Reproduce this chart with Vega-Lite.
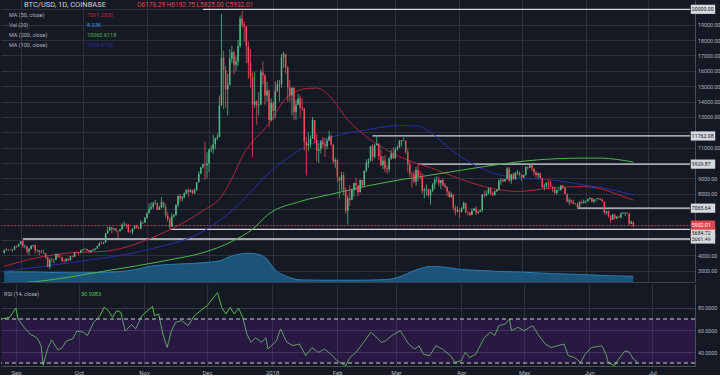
{
"$schema":"https://vega.github.io/schema/vega-lite/v6.json",
"background":"#151924",
"padding":0,
"spacing":1,
"config":{"view":{"stroke":null},"axis":{"labelFont":"Roboto","ticks":false,"labelOverlap":false},"text":{"font":"Roboto"}},
"datasets":{
"k":[
{"t":"2017-08-24","o":4150,"h":4370,"l":4120,"c":4330},{"t":"2017-08-25","o":4330,"h":4460,"l":4300,"c":4370},{"t":"2017-08-26","o":4370,"h":4380,"l":4280,"c":4350},{"t":"2017-08-27","o":4350,"h":4400,"l":4310,"c":4345},{"t":"2017-08-28","o":4345,"h":4400,"l":4230,"c":4390},{"t":"2017-08-29","o":4390,"h":4630,"l":4340,"c":4590},{"t":"2017-08-30","o":4590,"h":4640,"l":4480,"c":4570},{"t":"2017-08-31","o":4570,"h":4760,"l":4560,"c":4740},
{"t":"2017-09-01","o":4740,"h":4930,"l":4720,"c":4910},{"t":"2017-09-02","o":4910,"h":5000,"l":4470,"c":4590},{"t":"2017-09-03","o":4590,"h":4720,"l":4460,"c":4600},{"t":"2017-09-04","o":4600,"h":4600,"l":4100,"c":4240},{"t":"2017-09-05","o":4240,"h":4480,"l":4000,"c":4400},{"t":"2017-09-06","o":4400,"h":4650,"l":4400,"c":4620},{"t":"2017-09-07","o":4620,"h":4680,"l":4520,"c":4650},{"t":"2017-09-08","o":4650,"h":4700,"l":4120,"c":4320},{"t":"2017-09-09","o":4320,"h":4390,"l":4210,"c":4330},{"t":"2017-09-10","o":4330,"h":4330,"l":4000,"c":4230},{"t":"2017-09-11","o":4230,"h":4360,"l":4160,"c":4170},{"t":"2017-09-12","o":4170,"h":4380,"l":4080,"c":4150},{"t":"2017-09-13","o":4150,"h":4150,"l":3760,"c":3870},{"t":"2017-09-14","o":3870,"h":3920,"l":3220,"c":3250},{"t":"2017-09-15","o":3250,"h":3800,"l":3100,"c":3700},{"t":"2017-09-16","o":3700,"h":3850,"l":3550,"c":3690},{"t":"2017-09-17","o":3690,"h":3760,"l":3480,"c":3700},{"t":"2017-09-18","o":3700,"h":4110,"l":3700,"c":4090},{"t":"2017-09-19","o":4090,"h":4100,"l":3850,"c":3910},{"t":"2017-09-20","o":3910,"h":4050,"l":3850,"c":3880},{"t":"2017-09-21","o":3880,"h":3900,"l":3570,"c":3620},{"t":"2017-09-22","o":3620,"h":3760,"l":3520,"c":3610},{"t":"2017-09-23","o":3610,"h":3800,"l":3580,"c":3790},{"t":"2017-09-24","o":3790,"h":3790,"l":3640,"c":3670},{"t":"2017-09-25","o":3670,"h":3970,"l":3670,"c":3930},{"t":"2017-09-26","o":3930,"h":3980,"l":3860,"c":3890},{"t":"2017-09-27","o":3890,"h":4220,"l":3890,"c":4210},{"t":"2017-09-28","o":4210,"h":4260,"l":4140,"c":4200},{"t":"2017-09-29","o":4200,"h":4230,"l":4020,"c":4170},{"t":"2017-09-30","o":4170,"h":4360,"l":4160,"c":4340},
{"t":"2017-10-01","o":4340,"h":4410,"l":4280,"c":4400},{"t":"2017-10-02","o":4400,"h":4470,"l":4370,"c":4410},{"t":"2017-10-03","o":4410,"h":4430,"l":4250,"c":4310},{"t":"2017-10-04","o":4310,"h":4350,"l":4180,"c":4220},{"t":"2017-10-05","o":4220,"h":4360,"l":4160,"c":4320},{"t":"2017-10-06","o":4320,"h":4420,"l":4310,"c":4370},{"t":"2017-10-07","o":4370,"h":4460,"l":4320,"c":4440},{"t":"2017-10-08","o":4440,"h":4620,"l":4430,"c":4610},{"t":"2017-10-09","o":4610,"h":4880,"l":4560,"c":4770},{"t":"2017-10-10","o":4770,"h":4920,"l":4740,"c":4760},{"t":"2017-10-11","o":4760,"h":4870,"l":4730,"c":4830},{"t":"2017-10-12","o":4830,"h":5450,"l":4830,"c":5440},{"t":"2017-10-13","o":5440,"h":5860,"l":5400,"c":5640},{"t":"2017-10-14","o":5640,"h":5840,"l":5570,"c":5830},{"t":"2017-10-15","o":5830,"h":5850,"l":5450,"c":5690},{"t":"2017-10-16","o":5690,"h":5790,"l":5610,"c":5750},{"t":"2017-10-17","o":5750,"h":5760,"l":5530,"c":5600},{"t":"2017-10-18","o":5600,"h":5600,"l":5120,"c":5580},{"t":"2017-10-19","o":5580,"h":5730,"l":5540,"c":5700},{"t":"2017-10-20","o":5700,"h":6080,"l":5650,"c":6000},{"t":"2017-10-21","o":6000,"h":6190,"l":5880,"c":6010},{"t":"2017-10-22","o":6010,"h":6080,"l":5760,"c":5980},{"t":"2017-10-23","o":5980,"h":6050,"l":5450,"c":5530},{"t":"2017-10-24","o":5530,"h":5630,"l":5480,"c":5500},{"t":"2017-10-25","o":5500,"h":5760,"l":5350,"c":5740},{"t":"2017-10-26","o":5740,"h":5970,"l":5690,"c":5890},{"t":"2017-10-27","o":5890,"h":6000,"l":5730,"c":5780},{"t":"2017-10-28","o":5780,"h":5880,"l":5680,"c":5750},{"t":"2017-10-29","o":5750,"h":6300,"l":5700,"c":6150},{"t":"2017-10-30","o":6150,"h":6200,"l":6030,"c":6130},{"t":"2017-10-31","o":6130,"h":6470,"l":6100,"c":6450},
{"t":"2017-11-01","o":6450,"h":6780,"l":6380,"c":6740},{"t":"2017-11-02","o":6740,"h":7370,"l":6740,"c":7030},{"t":"2017-11-03","o":7030,"h":7450,"l":6950,"c":7160},{"t":"2017-11-04","o":7160,"h":7480,"l":7030,"c":7380},{"t":"2017-11-05","o":7380,"h":7600,"l":7300,"c":7390},{"t":"2017-11-06","o":7390,"h":7430,"l":6940,"c":6960},{"t":"2017-11-07","o":6960,"h":7220,"l":6950,"c":7120},{"t":"2017-11-08","o":7120,"h":7790,"l":7060,"c":7460},{"t":"2017-11-09","o":7460,"h":7460,"l":7070,"c":7140},{"t":"2017-11-10","o":7140,"h":7320,"l":6450,"c":6590},{"t":"2017-11-11","o":6590,"h":6800,"l":6190,"c":6340},{"t":"2017-11-12","o":6340,"h":6460,"l":5690,"c":5860},{"t":"2017-11-13","o":5860,"h":6730,"l":5860,"c":6520},{"t":"2017-11-14","o":6520,"h":6700,"l":6440,"c":6600},{"t":"2017-11-15","o":6600,"h":7330,"l":6600,"c":7280},{"t":"2017-11-16","o":7280,"h":7900,"l":7130,"c":7850},{"t":"2017-11-17","o":7850,"h":8000,"l":7500,"c":7700},{"t":"2017-11-18","o":7700,"h":7850,"l":7500,"c":7780},{"t":"2017-11-19","o":7780,"h":8100,"l":7700,"c":8040},{"t":"2017-11-20","o":8040,"h":8300,"l":7960,"c":8240},{"t":"2017-11-21","o":8240,"h":8370,"l":7800,"c":8100},{"t":"2017-11-22","o":8100,"h":8300,"l":8100,"c":8250},{"t":"2017-11-23","o":8250,"h":8270,"l":8000,"c":8030},{"t":"2017-11-24","o":8030,"h":8350,"l":8000,"c":8230},{"t":"2017-11-25","o":8230,"h":8780,"l":8200,"c":8750},{"t":"2017-11-26","o":8750,"h":9480,"l":8740,"c":9300},{"t":"2017-11-27","o":9300,"h":9730,"l":9300,"c":9720},{"t":"2017-11-28","o":9720,"h":9960,"l":9650,"c":9900},{"t":"2017-11-29","o":9900,"h":11400,"l":8900,"c":9850},{"t":"2017-11-30","o":9850,"h":10700,"l":9000,"c":9950},
{"t":"2017-12-01","o":9950,"h":10950,"l":9400,"c":10860},{"t":"2017-12-02","o":10860,"h":11150,"l":10700,"c":10910},{"t":"2017-12-03","o":10910,"h":11850,"l":10600,"c":11230},{"t":"2017-12-04","o":11230,"h":11650,"l":10900,"c":11620},{"t":"2017-12-05","o":11620,"h":11900,"l":11500,"c":11690},{"t":"2017-12-06","o":11690,"h":14400,"l":11690,"c":13740},{"t":"2017-12-07","o":13740,"h":19700,"l":13740,"c":16850},{"t":"2017-12-08","o":16850,"h":17300,"l":13500,"c":16050},{"t":"2017-12-09","o":16050,"h":16300,"l":13600,"c":14800},{"t":"2017-12-10","o":14800,"h":15800,"l":13100,"c":15100},{"t":"2017-12-11","o":15100,"h":17400,"l":15050,"c":16800},{"t":"2017-12-12","o":16800,"h":17600,"l":16500,"c":17200},{"t":"2017-12-13","o":17200,"h":17300,"l":15800,"c":16400},{"t":"2017-12-14","o":16400,"h":16950,"l":16000,"c":16600},{"t":"2017-12-15","o":16600,"h":18000,"l":16300,"c":17600},{"t":"2017-12-16","o":17600,"h":19600,"l":17500,"c":19400},{"t":"2017-12-17","o":19400,"h":19890,"l":18800,"c":19000},{"t":"2017-12-18","o":19000,"h":19200,"l":17900,"c":18900},{"t":"2017-12-19","o":18900,"h":18900,"l":16500,"c":17600},{"t":"2017-12-20","o":17600,"h":17900,"l":15500,"c":16500},{"t":"2017-12-21","o":16500,"h":17400,"l":14900,"c":15600},{"t":"2017-12-22","o":15600,"h":15900,"l":10400,"c":13800},{"t":"2017-12-23","o":13800,"h":15900,"l":13600,"c":14000},{"t":"2017-12-24","o":14000,"h":14100,"l":12500,"c":13750},{"t":"2017-12-25","o":13750,"h":14600,"l":13100,"c":13800},{"t":"2017-12-26","o":13800,"h":16100,"l":13800,"c":15900},{"t":"2017-12-27","o":15900,"h":16600,"l":15100,"c":15700},{"t":"2017-12-28","o":15700,"h":15800,"l":13800,"c":14400},{"t":"2017-12-29","o":14400,"h":15300,"l":14000,"c":14700},{"t":"2017-12-30","o":14700,"h":14800,"l":12350,"c":12800},{"t":"2017-12-31","o":12800,"h":14200,"l":12700,"c":13900},
{"t":"2018-01-01","o":13900,"h":14000,"l":12800,"c":13400},{"t":"2018-01-02","o":13400,"h":15300,"l":12900,"c":14700},{"t":"2018-01-03","o":14700,"h":15400,"l":14600,"c":15100},{"t":"2018-01-04","o":15100,"h":15400,"l":14000,"c":15150},{"t":"2018-01-05","o":15150,"h":17100,"l":14900,"c":16900},{"t":"2018-01-06","o":16900,"h":17250,"l":16200,"c":17100},{"t":"2018-01-07","o":17100,"h":17100,"l":15800,"c":16200},{"t":"2018-01-08","o":16200,"h":16300,"l":14000,"c":14900},{"t":"2018-01-09","o":14900,"h":15400,"l":14000,"c":14400},{"t":"2018-01-10","o":14400,"h":14900,"l":13100,"c":14900},{"t":"2018-01-11","o":14900,"h":14950,"l":12800,"c":13300},{"t":"2018-01-12","o":13300,"h":14100,"l":12800,"c":13800},{"t":"2018-01-13","o":13800,"h":14500,"l":13800,"c":14200},{"t":"2018-01-14","o":14200,"h":14400,"l":13000,"c":13600},{"t":"2018-01-15","o":13600,"h":14200,"l":13400,"c":13550},{"t":"2018-01-16","o":13550,"h":13600,"l":10800,"c":11400},{"t":"2018-01-17","o":11400,"h":11700,"l":9200,"c":11150},{"t":"2018-01-18","o":11150,"h":12000,"l":10800,"c":11250},{"t":"2018-01-19","o":11250,"h":11800,"l":11000,"c":11600},{"t":"2018-01-20","o":11600,"h":13000,"l":11600,"c":12800},{"t":"2018-01-21","o":12800,"h":12800,"l":11300,"c":11500},{"t":"2018-01-22","o":11500,"h":11900,"l":10100,"c":10800},{"t":"2018-01-23","o":10800,"h":11300,"l":10000,"c":10900},{"t":"2018-01-24","o":10900,"h":11500,"l":10600,"c":11400},{"t":"2018-01-25","o":11400,"h":11700,"l":11000,"c":11200},{"t":"2018-01-26","o":11200,"h":11650,"l":10400,"c":11100},{"t":"2018-01-27","o":11100,"h":11600,"l":10900,"c":11450},{"t":"2018-01-28","o":11450,"h":12100,"l":11450,"c":11750},{"t":"2018-01-29","o":11750,"h":11850,"l":11100,"c":11200},{"t":"2018-01-30","o":11200,"h":11200,"l":9950,"c":10100},{"t":"2018-01-31","o":10100,"h":10350,"l":9700,"c":10200},
{"t":"2018-02-01","o":10200,"h":10250,"l":8750,"c":9100},{"t":"2018-02-02","o":9100,"h":9100,"l":7700,"c":8850},{"t":"2018-02-03","o":8850,"h":9450,"l":8200,"c":9200},{"t":"2018-02-04","o":9200,"h":9400,"l":7900,"c":8200},{"t":"2018-02-05","o":8200,"h":8400,"l":6700,"c":6900},{"t":"2018-02-06","o":6900,"h":7880,"l":6000,"c":7700},{"t":"2018-02-07","o":7700,"h":8570,"l":7200,"c":7600},{"t":"2018-02-08","o":7600,"h":8300,"l":7600,"c":8250},{"t":"2018-02-09","o":8250,"h":8700,"l":7800,"c":8700},{"t":"2018-02-10","o":8700,"h":9050,"l":8200,"c":8550},{"t":"2018-02-11","o":8550,"h":8550,"l":7850,"c":8100},{"t":"2018-02-12","o":8100,"h":8950,"l":8100,"c":8900},{"t":"2018-02-13","o":8900,"h":8900,"l":8400,"c":8550},{"t":"2018-02-14","o":8550,"h":9500,"l":8550,"c":9500},{"t":"2018-02-15","o":9500,"h":10250,"l":9400,"c":10000},{"t":"2018-02-16","o":10000,"h":10300,"l":9700,"c":10150},{"t":"2018-02-17","o":10150,"h":11100,"l":10100,"c":11100},{"t":"2018-02-18","o":11100,"h":11250,"l":10100,"c":10400},{"t":"2018-02-19","o":10400,"h":11250,"l":10300,"c":11150},{"t":"2018-02-20","o":11150,"h":11800,"l":11150,"c":11250},{"t":"2018-02-21","o":11250,"h":11300,"l":10200,"c":10450},{"t":"2018-02-22","o":10450,"h":10900,"l":9800,"c":9850},{"t":"2018-02-23","o":9850,"h":10450,"l":9600,"c":10150},{"t":"2018-02-24","o":10150,"h":10500,"l":9400,"c":9650},{"t":"2018-02-25","o":9650,"h":9850,"l":9300,"c":9600},{"t":"2018-02-26","o":9600,"h":10400,"l":9400,"c":10300},{"t":"2018-02-27","o":10300,"h":10850,"l":10200,"c":10600},{"t":"2018-02-28","o":10600,"h":11050,"l":10300,"c":10300},
{"t":"2018-03-01","o":10300,"h":11000,"l":10300,"c":10900},{"t":"2018-03-02","o":10900,"h":11150,"l":10800,"c":11000},{"t":"2018-03-03","o":11000,"h":11500,"l":11000,"c":11450},{"t":"2018-03-04","o":11450,"h":11500,"l":11100,"c":11500},{"t":"2018-03-05","o":11500,"h":11700,"l":11400,"c":11450},{"t":"2018-03-06","o":11450,"h":11450,"l":10600,"c":10700},{"t":"2018-03-07","o":10700,"h":10900,"l":9400,"c":9900},{"t":"2018-03-08","o":9900,"h":10100,"l":9100,"c":9300},{"t":"2018-03-09","o":9300,"h":9400,"l":8400,"c":9250},{"t":"2018-03-10","o":9250,"h":9500,"l":8700,"c":8800},{"t":"2018-03-11","o":8800,"h":9750,"l":8500,"c":9550},{"t":"2018-03-12","o":9550,"h":9900,"l":8800,"c":9150},{"t":"2018-03-13","o":9150,"h":9500,"l":8950,"c":9140},{"t":"2018-03-14","o":9140,"h":9350,"l":8000,"c":8200},{"t":"2018-03-15","o":8200,"h":8400,"l":7700,"c":8250},{"t":"2018-03-16","o":8250,"h":8600,"l":7900,"c":8300},{"t":"2018-03-17","o":8300,"h":8350,"l":7750,"c":7900},{"t":"2018-03-18","o":7900,"h":8300,"l":7300,"c":8200},{"t":"2018-03-19","o":8200,"h":8700,"l":8100,"c":8600},{"t":"2018-03-20","o":8600,"h":9050,"l":8300,"c":8900},{"t":"2018-03-21","o":8900,"h":9150,"l":8750,"c":8910},{"t":"2018-03-22","o":8910,"h":9100,"l":8500,"c":8700},{"t":"2018-03-23","o":8700,"h":8900,"l":8300,"c":8900},{"t":"2018-03-24","o":8900,"h":9000,"l":8500,"c":8550},{"t":"2018-03-25","o":8550,"h":8700,"l":8350,"c":8450},{"t":"2018-03-26","o":8450,"h":8500,"l":7850,"c":8150},{"t":"2018-03-27","o":8150,"h":8200,"l":7750,"c":7800},{"t":"2018-03-28","o":7800,"h":8100,"l":7750,"c":7950},{"t":"2018-03-29","o":7950,"h":7950,"l":6950,"c":7100},{"t":"2018-03-30","o":7100,"h":7250,"l":6600,"c":6850},{"t":"2018-03-31","o":6850,"h":7200,"l":6800,"c":6930},
{"t":"2018-04-01","o":6930,"h":7050,"l":6430,"c":6820},{"t":"2018-04-02","o":6820,"h":7150,"l":6800,"c":7050},{"t":"2018-04-03","o":7050,"h":7500,"l":7000,"c":7420},{"t":"2018-04-04","o":7420,"h":7420,"l":6730,"c":6800},{"t":"2018-04-05","o":6800,"h":6900,"l":6600,"c":6780},{"t":"2018-04-06","o":6780,"h":6800,"l":6550,"c":6620},{"t":"2018-04-07","o":6620,"h":7050,"l":6620,"c":6900},{"t":"2018-04-08","o":6900,"h":7100,"l":6900,"c":7020},{"t":"2018-04-09","o":7020,"h":7200,"l":6620,"c":6770},{"t":"2018-04-10","o":6770,"h":6900,"l":6700,"c":6840},{"t":"2018-04-11","o":6840,"h":6980,"l":6830,"c":6930},{"t":"2018-04-12","o":6930,"h":8000,"l":6800,"c":7920},{"t":"2018-04-13","o":7920,"h":8200,"l":7750,"c":7890},{"t":"2018-04-14","o":7890,"h":8200,"l":7850,"c":8000},{"t":"2018-04-15","o":8000,"h":8400,"l":8000,"c":8350},{"t":"2018-04-16","o":8350,"h":8400,"l":7900,"c":8060},{"t":"2018-04-17","o":8060,"h":8150,"l":7850,"c":7900},{"t":"2018-04-18","o":7900,"h":8230,"l":7900,"c":8170},{"t":"2018-04-19","o":8170,"h":8300,"l":8100,"c":8270},{"t":"2018-04-20","o":8270,"h":8940,"l":8200,"c":8860},{"t":"2018-04-21","o":8860,"h":9030,"l":8600,"c":8920},{"t":"2018-04-22","o":8920,"h":9000,"l":8750,"c":8800},{"t":"2018-04-23","o":8800,"h":8990,"l":8800,"c":8940},{"t":"2018-04-24","o":8940,"h":9730,"l":8940,"c":9650},{"t":"2018-04-25","o":9650,"h":9760,"l":8750,"c":8870},{"t":"2018-04-26","o":8870,"h":9300,"l":8650,"c":9280},{"t":"2018-04-27","o":9280,"h":9380,"l":8920,"c":8940},{"t":"2018-04-28","o":8940,"h":9440,"l":8930,"c":9350},{"t":"2018-04-29","o":9350,"h":9550,"l":9200,"c":9400},{"t":"2018-04-30","o":9400,"h":9450,"l":9120,"c":9240},
{"t":"2018-05-01","o":9240,"h":9240,"l":8830,"c":9070},{"t":"2018-05-02","o":9070,"h":9240,"l":9020,"c":9220},{"t":"2018-05-03","o":9220,"h":9800,"l":9180,"c":9750},{"t":"2018-05-04","o":9750,"h":9770,"l":9550,"c":9700},{"t":"2018-05-05","o":9700,"h":9990,"l":9700,"c":9850},{"t":"2018-05-06","o":9850,"h":9930,"l":9500,"c":9650},{"t":"2018-05-07","o":9650,"h":9650,"l":9200,"c":9380},{"t":"2018-05-08","o":9380,"h":9480,"l":9050,"c":9200},{"t":"2018-05-09","o":9200,"h":9380,"l":8980,"c":9320},{"t":"2018-05-10","o":9320,"h":9400,"l":9000,"c":9030},{"t":"2018-05-11","o":9030,"h":9030,"l":8350,"c":8440},{"t":"2018-05-12","o":8440,"h":8650,"l":8220,"c":8500},{"t":"2018-05-13","o":8500,"h":8750,"l":8360,"c":8720},{"t":"2018-05-14","o":8720,"h":8880,"l":8300,"c":8680},{"t":"2018-05-15","o":8680,"h":8850,"l":8440,"c":8480},{"t":"2018-05-16","o":8480,"h":8480,"l":8120,"c":8340},{"t":"2018-05-17","o":8340,"h":8450,"l":8000,"c":8060},{"t":"2018-05-18","o":8060,"h":8270,"l":7950,"c":8240},{"t":"2018-05-19","o":8240,"h":8380,"l":8180,"c":8250},{"t":"2018-05-20","o":8250,"h":8580,"l":8200,"c":8530},{"t":"2018-05-21","o":8530,"h":8560,"l":8330,"c":8400},{"t":"2018-05-22","o":8400,"h":8400,"l":7980,"c":7990},{"t":"2018-05-23","o":7990,"h":8000,"l":7450,"c":7500},{"t":"2018-05-24","o":7500,"h":7730,"l":7280,"c":7580},{"t":"2018-05-25","o":7580,"h":7630,"l":7340,"c":7460},{"t":"2018-05-26","o":7460,"h":7620,"l":7320,"c":7350},{"t":"2018-05-27","o":7350,"h":7400,"l":7260,"c":7340},{"t":"2018-05-28","o":7340,"h":7450,"l":7080,"c":7120},{"t":"2018-05-29","o":7120,"h":7520,"l":7060,"c":7460},{"t":"2018-05-30","o":7460,"h":7560,"l":7320,"c":7390},{"t":"2018-05-31","o":7390,"h":7630,"l":7380,"c":7500},
{"t":"2018-06-01","o":7500,"h":7560,"l":7380,"c":7530},{"t":"2018-06-02","o":7530,"h":7700,"l":7470,"c":7640},{"t":"2018-06-03","o":7640,"h":7780,"l":7630,"c":7720},{"t":"2018-06-04","o":7720,"h":7750,"l":7450,"c":7500},{"t":"2018-06-05","o":7500,"h":7660,"l":7400,"c":7630},{"t":"2018-06-06","o":7630,"h":7700,"l":7500,"c":7650},{"t":"2018-06-07","o":7650,"h":7750,"l":7640,"c":7690},{"t":"2018-06-08","o":7690,"h":7700,"l":7570,"c":7620},{"t":"2018-06-09","o":7620,"h":7690,"l":7480,"c":7490},{"t":"2018-06-10","o":7490,"h":7500,"l":6660,"c":6770},{"t":"2018-06-11","o":6770,"h":6900,"l":6640,"c":6880},{"t":"2018-06-12","o":6880,"h":6900,"l":6450,"c":6550},{"t":"2018-06-13","o":6550,"h":6620,"l":6120,"c":6310},{"t":"2018-06-14","o":6310,"h":6700,"l":6300,"c":6650},{"t":"2018-06-15","o":6650,"h":6680,"l":6380,"c":6390},{"t":"2018-06-16","o":6390,"h":6550,"l":6350,"c":6500},{"t":"2018-06-17","o":6500,"h":6580,"l":6450,"c":6460},{"t":"2018-06-18","o":6460,"h":6800,"l":6400,"c":6710},{"t":"2018-06-19","o":6710,"h":6830,"l":6690,"c":6740},{"t":"2018-06-20","o":6740,"h":6800,"l":6560,"c":6760},{"t":"2018-06-21","o":6760,"h":6780,"l":6700,"c":6720},{"t":"2018-06-22","o":6720,"h":6730,"l":5950,"c":6050},{"t":"2018-06-23","o":6050,"h":6250,"l":6040,"c":6178.29},{"t":"2018-06-24","o":6178.29,"h":6192.75,"l":5825,"c":5932.01}
],
"ma":[
{"t":"2017-08-24","s":"MA50","v":3280},{"t":"2017-09-08","s":"MA50","v":3820},{"t":"2017-09-26","s":"MA50","v":4170},{"t":"2017-10-11","s":"MA50","v":4250},{"t":"2017-10-21","s":"MA50","v":4500},{"t":"2017-11-01","s":"MA50","v":5010},{"t":"2017-11-12","s":"MA50","v":5660},{"t":"2017-11-28","s":"MA50","v":6900},{"t":"2017-12-07","s":"MA50","v":7830},{"t":"2017-12-12","s":"MA50","v":9000},{"t":"2017-12-17","s":"MA50","v":10420},{"t":"2017-12-30","s":"MA50","v":12590},{"t":"2018-01-08","s":"MA50","v":14320},{"t":"2018-01-18","s":"MA50","v":14860},{"t":"2018-01-22","s":"MA50","v":14880},{"t":"2018-01-30","s":"MA50","v":14100},{"t":"2018-02-06","s":"MA50","v":12800},{"t":"2018-02-14","s":"MA50","v":11830},{"t":"2018-02-23","s":"MA50","v":10990},{"t":"2018-03-03","s":"MA50","v":10420},{"t":"2018-03-11","s":"MA50","v":10000},{"t":"2018-03-18","s":"MA50","v":9700},{"t":"2018-03-25","s":"MA50","v":9340},{"t":"2018-04-13","s":"MA50","v":8470},{"t":"2018-04-29","s":"MA50","v":8150},{"t":"2018-05-15","s":"MA50","v":8370},{"t":"2018-05-31","s":"MA50","v":8470},{"t":"2018-06-10","s":"MA50","v":8260},{"t":"2018-06-19","s":"MA50","v":7830},{"t":"2018-06-24","s":"MA50","v":7591},
{"t":"2017-08-24","s":"MA100","v":2960},{"t":"2017-09-25","s":"MA100","v":3520},{"t":"2017-11-01","s":"MA100","v":4360},{"t":"2017-11-28","s":"MA100","v":5550},{"t":"2017-12-13","s":"MA100","v":7000},{"t":"2017-12-30","s":"MA100","v":9360},{"t":"2018-01-14","s":"MA100","v":10860},{"t":"2018-01-30","s":"MA100","v":11720},{"t":"2018-02-15","s":"MA100","v":12160},{"t":"2018-03-03","s":"MA100","v":12440},{"t":"2018-03-11","s":"MA100","v":12420},{"t":"2018-03-18","s":"MA100","v":12000},{"t":"2018-03-28","s":"MA100","v":10860},{"t":"2018-04-13","s":"MA100","v":9560},{"t":"2018-04-29","s":"MA100","v":9040},{"t":"2018-05-15","s":"MA100","v":8910},{"t":"2018-05-31","s":"MA100","v":8580},{"t":"2018-06-10","s":"MA100","v":8370},{"t":"2018-06-24","s":"MA100","v":7930},
{"t":"2017-08-24","s":"MA200","v":2150},{"t":"2017-09-09","s":"MA200","v":2300},{"t":"2017-10-11","s":"MA200","v":2960},{"t":"2017-11-12","s":"MA200","v":3710},{"t":"2017-11-28","s":"MA200","v":4170},{"t":"2017-12-12","s":"MA200","v":4900},{"t":"2017-12-22","s":"MA200","v":5700},{"t":"2017-12-30","s":"MA200","v":6700},{"t":"2018-01-14","s":"MA200","v":7500},{"t":"2018-01-30","s":"MA200","v":8000},{"t":"2018-02-15","s":"MA200","v":8500},{"t":"2018-03-03","s":"MA200","v":8900},{"t":"2018-03-22","s":"MA200","v":9300},{"t":"2018-04-13","s":"MA200","v":9770},{"t":"2018-05-09","s":"MA200","v":10210},{"t":"2018-05-31","s":"MA200","v":10320},{"t":"2018-06-08","s":"MA200","v":10320},{"t":"2018-06-24","s":"MA200","v":10060}
],
"vol":[
{"t":"2017-08-24","v":14.5},{"t":"2017-09-10","v":14},{"t":"2017-09-25","v":13},{"t":"2017-10-10","v":13.5},{"t":"2017-10-25","v":17},{"t":"2017-11-04","v":23},{"t":"2017-11-20","v":26},{"t":"2017-12-01","v":28},{"t":"2017-12-06","v":30},{"t":"2017-12-12","v":37},{"t":"2017-12-20","v":40.7},{"t":"2017-12-25","v":39},{"t":"2017-12-28","v":35},{"t":"2018-01-02","v":17},{"t":"2018-01-08","v":7.5},{"t":"2018-01-14","v":3},{"t":"2018-01-25","v":2.5},{"t":"2018-02-10","v":2.5},{"t":"2018-02-25","v":3.5},{"t":"2018-03-03","v":7.5},{"t":"2018-03-11","v":17},{"t":"2018-03-18","v":22},{"t":"2018-03-25","v":21},{"t":"2018-04-01","v":18},{"t":"2018-04-10","v":16.5},{"t":"2018-04-20","v":15},{"t":"2018-05-01","v":14},{"t":"2018-05-15","v":12},{"t":"2018-05-31","v":10.5},{"t":"2018-06-12","v":9},{"t":"2018-06-24","v":8}
],
"hl":[
{"t":"2017-11-28","p":20000},{"t":"2018-02-18","p":11762.08},{"t":"2018-03-12","p":9929.87},{"t":"2018-05-28","p":7065.64},{"t":"2017-11-12","p":5684.72},{"t":"2017-09-02","p":5061.49}
],
"cur":[{"p":5932.01}],
"leg":[
{"r":"h","label":"BTC/USD, 1D, COINBASE","val":"O6178.29  H6192.75  L5825.00  C5932.01","s":"OHLC"},
{"r":"a","label":"MA (50, close)","val":"7591.2820","s":"MA50"},
{"r":"b","label":"Vol (20)","val":"8.33K","s":"VOL"},
{"r":"c","label":"MA (200, close)","val":"10060.6118","s":"MA200"},
{"r":"d","label":"MA (100, close)","val":"7930.4120","s":"MA100"}
],
"rsi":[
{"t":"2017-08-24","v":70},{"t":"2017-08-25","v":70},{"t":"2017-08-29","v":71.5},{"t":"2017-09-01","v":80},{"t":"2017-09-02","v":70},{"t":"2017-09-05","v":62},{"t":"2017-09-08","v":56},{"t":"2017-09-11","v":53},{"t":"2017-09-13","v":45.7},{"t":"2017-09-14","v":28},{"t":"2017-09-16","v":42.7},{"t":"2017-09-18","v":51},{"t":"2017-09-21","v":41.8},{"t":"2017-09-23","v":44},{"t":"2017-09-25","v":50},{"t":"2017-09-28","v":52},{"t":"2017-09-30","v":59},{"t":"2017-10-03","v":58},{"t":"2017-10-05","v":55},{"t":"2017-10-08","v":67},{"t":"2017-10-11","v":73},{"t":"2017-10-13","v":80.6},{"t":"2017-10-15","v":77.6},{"t":"2017-10-17","v":71.5},{"t":"2017-10-19","v":77.6},{"t":"2017-10-21","v":76},{"t":"2017-10-23","v":59},{"t":"2017-10-26","v":65},{"t":"2017-10-28","v":61},{"t":"2017-10-31","v":73},{"t":"2017-11-05","v":81.5},{"t":"2017-11-06","v":73},{"t":"2017-11-08","v":74.5},{"t":"2017-11-10","v":56},{"t":"2017-11-12","v":44},{"t":"2017-11-14","v":59},{"t":"2017-11-16","v":67},{"t":"2017-11-19","v":68.5},{"t":"2017-11-22","v":64},{"t":"2017-11-25","v":73},{"t":"2017-11-30","v":80.6},{"t":"2017-12-01","v":82},{"t":"2017-12-06","v":94},{"t":"2017-12-08","v":80.6},{"t":"2017-12-10","v":74.5},{"t":"2017-12-12","v":80.6},{"t":"2017-12-14","v":74.5},{"t":"2017-12-16","v":80},{"t":"2017-12-18","v":71.5},{"t":"2017-12-20","v":56},{"t":"2017-12-22","v":48.8},{"t":"2017-12-24","v":53},{"t":"2017-12-27","v":48.8},{"t":"2017-12-29","v":53},{"t":"2017-12-30","v":42.7},{"t":"2018-01-03","v":50},{"t":"2018-01-05","v":61},{"t":"2018-01-08","v":48.8},{"t":"2018-01-11","v":45.8},{"t":"2018-01-14","v":47.3},{"t":"2018-01-17","v":36.7},{"t":"2018-01-20","v":44},{"t":"2018-01-23","v":39.7},{"t":"2018-01-26","v":42.7},{"t":"2018-01-29","v":38},{"t":"2018-02-01","v":32},{"t":"2018-02-03","v":29.7},{"t":"2018-02-05","v":27.6},{"t":"2018-02-07","v":35},{"t":"2018-02-10","v":39.7},{"t":"2018-02-14","v":50},{"t":"2018-02-17","v":58},{"t":"2018-02-20","v":53},{"t":"2018-02-22","v":48.8},{"t":"2018-02-24","v":50},{"t":"2018-02-27","v":55},{"t":"2018-03-03","v":59.4},{"t":"2018-03-07","v":47.3},{"t":"2018-03-10","v":42.7},{"t":"2018-03-12","v":45.7},{"t":"2018-03-14","v":38},{"t":"2018-03-17","v":36.7},{"t":"2018-03-20","v":45.7},{"t":"2018-03-23","v":42.7},{"t":"2018-03-27","v":36.7},{"t":"2018-03-29","v":30.6},{"t":"2018-04-01","v":32},{"t":"2018-04-03","v":39.7},{"t":"2018-04-05","v":35},{"t":"2018-04-08","v":38},{"t":"2018-04-12","v":53},{"t":"2018-04-15","v":58},{"t":"2018-04-17","v":55},{"t":"2018-04-19","v":64},{"t":"2018-04-22","v":65.5},{"t":"2018-04-24","v":70},{"t":"2018-04-25","v":59.4},{"t":"2018-04-28","v":62.5},{"t":"2018-05-01","v":59.4},{"t":"2018-05-05","v":64},{"t":"2018-05-08","v":55},{"t":"2018-05-11","v":47.3},{"t":"2018-05-14","v":44},{"t":"2018-05-17","v":45.8},{"t":"2018-05-20","v":47.3},{"t":"2018-05-22","v":36.7},{"t":"2018-05-25","v":35},{"t":"2018-05-28","v":30.6},{"t":"2018-05-30","v":38},{"t":"2018-06-02","v":44},{"t":"2018-06-07","v":45.7},{"t":"2018-06-09","v":38},{"t":"2018-06-10","v":30.6},{"t":"2018-06-13","v":27.6},{"t":"2018-06-15","v":33.6},{"t":"2018-06-18","v":41},{"t":"2018-06-20","v":40},{"t":"2018-06-22","v":33.6},{"t":"2018-06-24","v":30.94}
],
"rb":[{"lo":30,"hi":70}],
"rleg":[{"label":"RSI (14, close)","val":"30.9383"}]
},
"vconcat":[
{
"width":694,"height":282,
"resolve":{"scale":{"y":"independent"}},
"layer":[
{"data":{"name":"vol"},"mark":{"type":"area","interpolate":"monotone","color":"#1d5a82","opacity":0.9,"line":{"color":"#2b7db0","strokeWidth":1}},
 "encoding":{"x":{"field":"t","type":"temporal","scale":{"type":"utc","domain":[{"year":2017,"month":8,"date":24,"hours":21,"utc":true},{"year":2018,"month":7,"date":21,"hours":9,"utc":true}],"nice":false},
   "axis":{"values":[{"year":2017,"month":9,"date":1,"utc":true},{"year":2017,"month":10,"date":1,"utc":true},{"year":2017,"month":11,"date":1,"utc":true},{"year":2017,"month":12,"date":1,"utc":true},{"year":2018,"month":1,"date":1,"utc":true},{"year":2018,"month":2,"date":1,"utc":true},{"year":2018,"month":3,"date":1,"utc":true},{"year":2018,"month":4,"date":1,"utc":true},{"year":2018,"month":5,"date":1,"utc":true},{"year":2018,"month":6,"date":1,"utc":true},{"year":2018,"month":7,"date":1,"utc":true}],"tickCount":40,"labels":false,"ticks":false,"grid":true,"gridColor":"#2d313e","domain":true,"domainColor":"#3c404c","title":null}},
  "y":{"field":"v","type":"quantitative","scale":{"domain":[0,400],"nice":false},"axis":null}}},
{"layer":[
 {"data":{"name":"hl"},"mark":{"type":"rule","color":"#d6d8de","strokeWidth":1.3},
  "encoding":{"x":{"field":"t","type":"temporal"},"x2":{"datum":{"year":2018,"month":7,"date":21,"hours":9,"utc":true}},
   "y":{"field":"p","type":"quantitative","scale":{"domain":[2264,20605],"zero":false,"nice":false},
    "axis":{"orient":"right","values":[3000,4000,5000,6000,7000,8000,9000,10000,11000,12000,13000,14000,15000,16000,17000,18000,19000,20000],"tickCount":40,"labelExpr":"indexof([5000,6000,7000,10000,12000,20000], datum.value) >= 0 ? '' : format(datum.value, '.2f')","labelOverlap":false,"grid":true,"gridColor":"#2d313e","domain":true,"domainColor":"#4a4e5a","ticks":false,"labelFontSize":5.3,"labelColor":"#b2b5be","labelPadding":2.5,"title":null}}}},
 {"data":{"name":"cur"},"mark":{"type":"rule","color":"#e0464e","strokeWidth":1,"strokeDash":[1.5,2],"opacity":0.8},
  "encoding":{"y":{"field":"p","type":"quantitative"}}},
 {"data":{"name":"ma"},"mark":{"type":"line","strokeWidth":1,"interpolate":"monotone","clip":true},
  "encoding":{"x":{"field":"t","type":"temporal"},
   "y":{"field":"v","type":"quantitative"},
   "color":{"field":"s","type":"nominal","scale":{"domain":["MA50","MA100","MA200","VOL","OHLC"],"range":["#b3263a","#2a2ea8","#4cb84c","#3d8fe0","#e0464e"]},"legend":null}}},
 {"data":{"name":"k"},"mark":{"type":"rule","strokeWidth":0.8},
  "encoding":{"x":{"field":"t","type":"temporal"},
   "y":{"field":"l","type":"quantitative"},
   "y2":{"field":"h"},
   "color":{"condition":{"test":"datum.c >= datum.o","value":"#53b987"},"value":"#eb4d5c"}}},
 {"data":{"name":"k"},"mark":{"type":"bar","width":1.5},
  "encoding":{"x":{"field":"t","type":"temporal"},
   "y":{"field":"o","type":"quantitative"},
   "y2":{"field":"c"},
   "color":{"condition":{"test":"datum.c >= datum.o","value":"#53b987"},"value":"#eb4d5c"}}},
 {"data":{"name":"hl"},"transform":[{"filter":"datum.p != 5684.72"}],"mark":{"type":"point","shape":"M0.2,-1.15L6.3,-1.15L6.3,1.15L0.2,1.15Z","size":64,"filled":true,"color":"#d6d8de","opacity":1},
  "encoding":{"x":{"datum":{"year":2018,"month":7,"date":21,"hours":9,"utc":true},"type":"temporal"},"y":{"field":"p","type":"quantitative"}}},
 {"data":{"name":"hl"},"transform":[{"filter":"datum.p != 5684.72"}],"mark":{"type":"text","align":"left","baseline":"middle","dx":1.8,"fontSize":5.2,"color":"#131722"},
  "encoding":{"x":{"datum":{"year":2018,"month":7,"date":21,"hours":9,"utc":true},"type":"temporal"},"y":{"field":"p","type":"quantitative"},"text":{"field":"p","type":"quantitative","format":".2f"}}},
 {"data":{"name":"hl"},"transform":[{"filter":"datum.p == 5684.72"}],"mark":{"type":"point","shape":"M0.2,-1.15L6.3,-1.15L6.3,1.15L0.2,1.15Z","size":64,"filled":true,"color":"#d6d8de","opacity":1,"yOffset":3.5},
  "encoding":{"x":{"datum":{"year":2018,"month":7,"date":21,"hours":9,"utc":true},"type":"temporal"},"y":{"field":"p","type":"quantitative"}}},
 {"data":{"name":"hl"},"transform":[{"filter":"datum.p == 5684.72"}],"mark":{"type":"text","align":"left","baseline":"middle","dx":1.8,"yOffset":3.5,"fontSize":5.2,"color":"#131722"},
  "encoding":{"x":{"datum":{"year":2018,"month":7,"date":21,"hours":9,"utc":true},"type":"temporal"},"y":{"field":"p","type":"quantitative"},"text":{"field":"p","type":"quantitative","format":".2f"}}},
 {"data":{"name":"cur"},"mark":{"type":"point","shape":"M0.2,-1.15L6.3,-1.15L6.3,1.15L0.2,1.15Z","size":64,"filled":true,"color":"#e0464e","opacity":1,"yOffset":-0.5},
  "encoding":{"x":{"datum":{"year":2018,"month":7,"date":21,"hours":9,"utc":true},"type":"temporal"},"y":{"field":"p","type":"quantitative"}}},
 {"data":{"name":"cur"},"mark":{"type":"text","align":"left","baseline":"middle","dx":1.8,"yOffset":-0.5,"fontSize":5.2,"color":"#ffffff"},
  "encoding":{"x":{"datum":{"year":2018,"month":7,"date":21,"hours":9,"utc":true},"type":"temporal"},"y":{"field":"p","type":"quantitative"},"text":{"field":"p","type":"quantitative","format":".2f"}}}
]},
{"data":{"name":"leg"},"transform":[{"filter":"datum.r == 'h'"}],"mark":{"type":"text","align":"left","baseline":"middle","dx":18,"fontSize":7.5,"color":"#d1d4dc"},
 "encoding":{"x":{"datum":{"year":2017,"month":8,"date":24,"hours":21,"utc":true},"type":"temporal"},"y":{"field":"r","type":"ordinal","scale":{"type":"point","domain":["h","a","b","c","d"],"range":[5,45],"padding":0},"axis":null},"text":{"field":"label"}}},
{"data":{"name":"leg"},"transform":[{"filter":"datum.r != 'h'"}],"mark":{"type":"text","align":"left","baseline":"middle","dx":3,"fontSize":5.5,"color":"#b2b5be"},
 "encoding":{"x":{"datum":{"year":2017,"month":8,"date":24,"hours":21,"utc":true},"type":"temporal"},"y":{"field":"r","type":"ordinal","scale":{"type":"point","domain":["h","a","b","c","d"],"range":[5,45],"padding":0},"axis":null},"text":{"field":"label"}}},
{"data":{"name":"leg"},"transform":[{"filter":"datum.r == 'h'"}],"mark":{"type":"text","align":"left","baseline":"middle","dx":131,"fontSize":6.5},
 "encoding":{"x":{"datum":{"year":2017,"month":8,"date":24,"hours":21,"utc":true},"type":"temporal"},"y":{"field":"r","type":"ordinal","scale":{"type":"point","domain":["h","a","b","c","d"],"range":[5,45],"padding":0},"axis":null},"text":{"field":"val"},
  "color":{"field":"s","type":"nominal","scale":{"domain":["MA50","MA100","MA200","VOL","OHLC"],"range":["#b3263a","#2a2ea8","#4cb84c","#3d8fe0","#e0464e"]},"legend":null}}},
{"data":{"name":"leg"},"transform":[{"filter":"datum.r != 'h'"}],"mark":{"type":"text","align":"left","baseline":"middle","dx":81,"fontSize":5.5},
 "encoding":{"x":{"datum":{"year":2017,"month":8,"date":24,"hours":21,"utc":true},"type":"temporal"},"y":{"field":"r","type":"ordinal","scale":{"type":"point","domain":["h","a","b","c","d"],"range":[5,45],"padding":0},"axis":null},"text":{"field":"val"},
  "color":{"field":"s","type":"nominal","scale":{"domain":["MA50","MA100","MA200","VOL","OHLC"],"range":["#b3263a","#2a2ea8","#4cb84c","#3d8fe0","#e0464e"]},"legend":null}}}
]
},
{
"width":694,"height":82,
"layer":[
{"data":{"name":"rsi"},"mark":{"type":"line","color":"#55b94c","strokeWidth":1,"clip":true,"zindex":2},
 "encoding":{"x":{"field":"t","type":"temporal","scale":{"type":"utc","domain":[{"year":2017,"month":8,"date":24,"hours":21,"utc":true},{"year":2018,"month":7,"date":21,"hours":9,"utc":true}],"nice":false},
   "axis":{"values":[{"year":2017,"month":9,"date":1,"utc":true},{"year":2017,"month":10,"date":1,"utc":true},{"year":2017,"month":11,"date":1,"utc":true},{"year":2017,"month":12,"date":1,"utc":true},{"year":2018,"month":1,"date":1,"utc":true},{"year":2018,"month":2,"date":1,"utc":true},{"year":2018,"month":3,"date":1,"utc":true},{"year":2018,"month":4,"date":1,"utc":true},{"year":2018,"month":5,"date":1,"utc":true},{"year":2018,"month":6,"date":1,"utc":true},{"year":2018,"month":7,"date":1,"utc":true}],"tickCount":40,"labelExpr":"utcFormat(datum.value, '%m') == '01' ? utcFormat(datum.value, '%Y') : utcFormat(datum.value, '%b')","labelOverlap":false,"grid":true,"gridColor":"#2d313e","ticks":false,"domain":true,"domainColor":"#4a4e5a","labelFontSize":6,"labelColor":"#b2b5be","labelPadding":3,"labelFlush":false,"title":null}},
  "y":{"field":"v","type":"quantitative","scale":{"domain":[27.3,101.8],"zero":false,"nice":false},
   "axis":{"orient":"right","values":[40,60,80],"tickCount":10,"format":".4f","labelOverlap":false,"grid":true,"gridColor":"#363a4c","ticks":false,"domain":true,"domainColor":"#4a4e5a","labelFontSize":5.3,"labelColor":"#b2b5be","labelPadding":2.5,"title":null}}}},
{"data":{"name":"rb"},"mark":{"type":"rect","color":"#9915ff","opacity":0.14},
 "encoding":{"y":{"field":"hi","type":"quantitative"},"y2":{"field":"lo"}}},
{"data":{"name":"rb"},"mark":{"type":"rule","color":"#c9cbd2","strokeDash":[4,3],"strokeWidth":1},
 "encoding":{"y":{"field":"hi","type":"quantitative"}}},
{"data":{"name":"rb"},"mark":{"type":"rule","color":"#c9cbd2","strokeDash":[4,3],"strokeWidth":1},
 "encoding":{"y":{"field":"lo","type":"quantitative"}}},
{"data":{"name":"rleg"},"mark":{"type":"text","align":"left","baseline":"middle","dx":3,"fontSize":5.5,"color":"#b2b5be"},
 "encoding":{"x":{"datum":{"year":2017,"month":8,"date":24,"hours":21,"utc":true},"type":"temporal"},"y":{"datum":93,"type":"quantitative"},"text":{"field":"label"}}},
{"data":{"name":"rleg"},"mark":{"type":"text","align":"left","baseline":"middle","dx":80,"fontSize":5.5,"color":"#4cd04c"},
 "encoding":{"x":{"datum":{"year":2017,"month":8,"date":24,"hours":21,"utc":true},"type":"temporal"},"y":{"datum":93,"type":"quantitative"},"text":{"field":"val"}}}
]
}
]
}
